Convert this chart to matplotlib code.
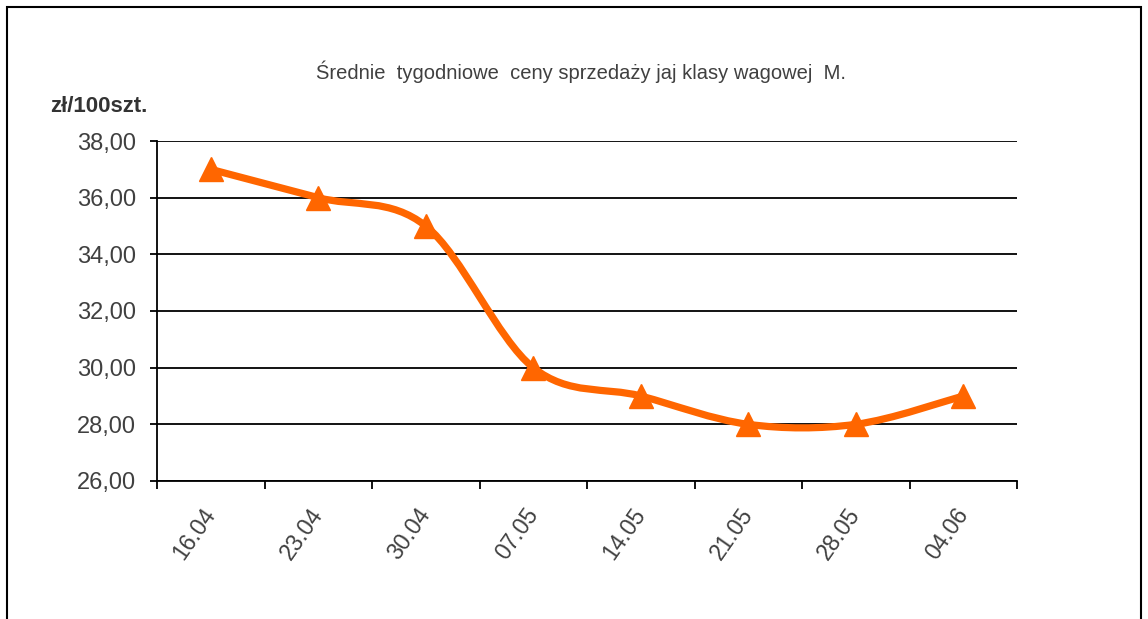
import matplotlib
matplotlib.use("Agg")
import matplotlib.pyplot as plt
from matplotlib.path import Path
from matplotlib.patches import PathPatch, Rectangle
import numpy as np

# data
weeks = ["16.04", "23.04", "30.04", "07.05", "14.05", "21.05", "28.05", "04.06"]
prices = [37.0, 36.0, 35.0, 30.0, 29.0, 28.0, 28.0, 29.0]
yticks = [26, 28, 30, 32, 34, 36, 38]

ORANGE = "#FF6600"
TXT = "#404040"

plt.rcParams.update({"font.family": ["Liberation Sans", "DejaVu Sans"]})

fig = plt.figure(figsize=(11.48, 6.19), dpi=100)
ax = fig.add_axes([157/1148, 1-481/619, (1017-157)/1148, (481-141)/619])

## smoothed line like excel (bezier through the points)
x = np.arange(len(prices), dtype=float)
y = np.array(prices)
pts = np.column_stack([x, y])
verts = [pts[0]]
codes = [Path.MOVETO]
for i in range(len(pts)-1):
    p0 = pts[max(i-1, 0)]
    p1 = pts[i]
    p2 = pts[i+1]
    p3 = pts[min(i+2, len(pts)-1)]
    verts += [p1 + (p2-p0)/6., p2 - (p3-p1)/6., p2]
    codes += [Path.CURVE4]*3
ax.add_patch(PathPatch(Path(verts, codes), fill=False, edgecolor=ORANGE,
                       lw=5.2, capstyle="round", joinstyle="round", zorder=3))
ax.plot(x, y, ls="none", marker="^", ms=17, color=ORANGE, mec=ORANGE, zorder=4)

ax.set_xlim(-0.5, len(weeks)-0.5)
ax.set_ylim(26, 38)
ax.set_yticks(yticks)
ax.set_yticklabels([("%.2f" % v).replace(".", ",") for v in yticks])
for v in yticks:
    ax.axhline(v, color="black", lw=1.3, zorder=1)

ax.set_xticks(x)
ax.set_xticklabels(weeks, rotation=55, ha="right", va="center", rotation_mode="anchor")
ax.set_xticks(np.arange(-0.5, len(weeks)), minor=True)
ax.tick_params(axis="x", which="major", length=0, pad=21, labelsize=16.5, labelcolor=TXT)
ax.tick_params(axis="x", which="minor", length=6, width=1.3, direction="out")
ax.tick_params(axis="y", length=5, width=1.3, direction="out", pad=10, labelsize=17, labelcolor=TXT)

for s in ["top", "right"]:
    ax.spines[s].set_visible(False)
for s in ["left", "bottom"]:
    ax.spines[s].set_linewidth(1.3)
    ax.spines[s].set_color("black")

fig.text(581/1148, 1-72/619, "Średnie  tygodniowe  ceny sprzedaży jaj klasy wagowej  M.",
         ha="center", va="center", fontsize=14.5, color=TXT)
fig.text(50/1148, 1-106/619, "zł/100szt.", ha="left", va="center",
         fontsize=16, fontweight="bold", color="#333333")

## frame round the chart
fig.patches.append(Rectangle((7/1148, -0.05), (1141-7)/1148, 1.05-7/619,
                             transform=fig.transFigure, fill=False,
                             edgecolor="black", lw=1.5))

fig.savefig("out.png", dpi=100)
